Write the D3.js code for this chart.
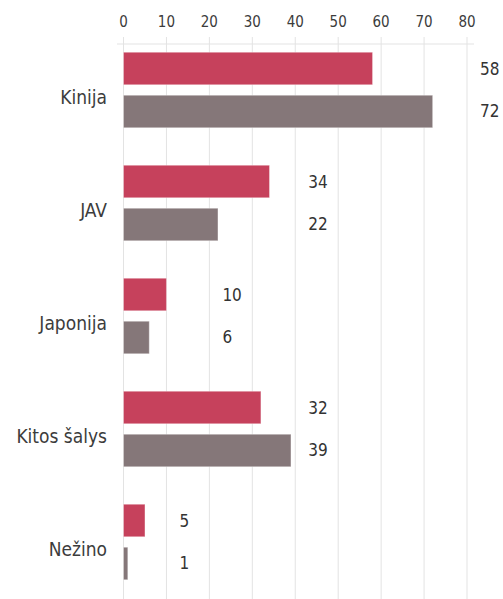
<!DOCTYPE html>
<html><head><meta charset="utf-8">
<script src="https://cdn.jsdelivr.net/npm/d3@7"></script>
<style>body{margin:0;background:#fff;}svg{display:block;font-family:"DejaVu Sans Condensed","DejaVu Sans",sans-serif;font-stretch:condensed;}</style>
</head><body>
<svg id="c" width="503" height="599"></svg>
<script>
const categories = ["Kinija", "JAV", "Japonija", "Kitos šalys", "Nežino"];
const series1 = [58, 34, 10, 32, 5];
const series2 = [72, 22, 6, 39, 1];
const ticks = [0, 10, 20, 30, 40, 50, 60, 70, 80];
const colors = ["#c6415c", "#857779"];

const svg = d3.select("#c");
const x = d3.scaleLinear().domain([0, 80]).range([123.5, 467]);
const y = d3.scaleBand().domain(categories).range([33.5, 598.5]);
const sub = d3.scaleBand().domain([0, 1]).range([0, y.bandwidth()]).paddingInner(0.244).paddingOuter(0.436);

// grid
svg.append("g").selectAll("line").data(ticks).join("line")
  .attr("x1", d => x(d)).attr("x2", d => x(d))
  .attr("y1", 37).attr("y2", 599)
  .attr("stroke", "#e3e3e3").attr("stroke-width", 1);
svg.append("line").attr("x1", 117).attr("x2", 474).attr("y1", 44).attr("y2", 44)
  .attr("stroke", "#e3e3e3");

// axis labels
svg.append("g").selectAll("text").data(ticks).join("text")
  .attr("x", d => x(d)).attr("y", 26.5).attr("text-anchor", "middle")
  .attr("font-size", 15).attr("fill", "#3c3c3c").text(d => d);

const data = categories.map((c, i) => ({c, v: [series1[i], series2[i]]}));
const g = svg.append("g").selectAll("g").data(data).join("g")
  .attr("transform", d => `translate(0,${y(d.c)})`);

g.selectAll("rect").data(d => d.v).join("rect")
  .attr("x", x(0)).attr("y", (d, i) => sub(i))
  .attr("width", d => x(d) - x(0)).attr("height", sub.bandwidth())
  .attr("fill", (d, i) => colors[i])
  .attr("stroke", "rgba(255,255,255,0.35)").attr("stroke-width", 1);

g.each(function(d) {
  const m = Math.floor(Math.max(...d.v) / 10) * 10 + 10;
  d3.select(this).selectAll("text.v").data(d.v).join("text").attr("class", "v")
    .attr("x", x(m) + 13).attr("y", (v, i) => sub(i) + sub.bandwidth() / 2 + 6)
    .attr("font-size", 17).attr("fill", "#333").text(v => v);
});

g.append("text").attr("x", 107).attr("y", y.bandwidth() / 2 + 14)
  .attr("text-anchor", "end").attr("font-size", 19)
  .attr("fill", "#3c3c3c").text(d => d.c);
</script>
</body></html>
